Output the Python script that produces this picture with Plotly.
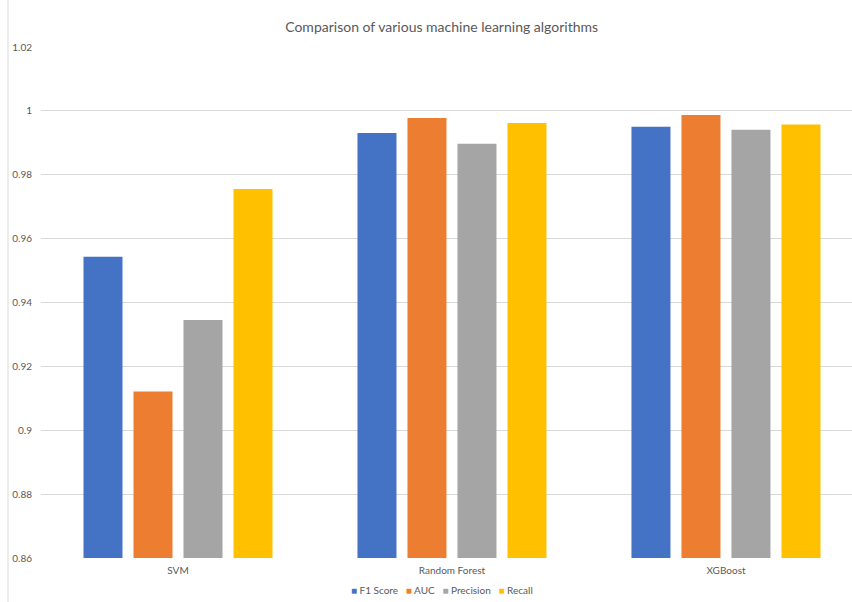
import plotly.graph_objects as go

# Models compared and their scores per metric
algorithms = ["SVM", "Random Forest", "XGBoost"]
f1_score = [0.9543, 0.9931, 0.9950]
auc = [0.9121, 0.9978, 0.9987]
precision = [0.9345, 0.9897, 0.9941]
recall = [0.9755, 0.9962, 0.9957]

y_ticks = [0.86, 0.88, 0.9, 0.92, 0.94, 0.96, 0.98, 1, 1.02]
y_tick_text = ["0.86", "0.88", "0.9", "0.92", "0.94", "0.96", "0.98", "1", "1.02"]

series = [
    ("F1 Score", f1_score, "#4472C4"),
    ("AUC", auc, "#ED7D31"),
    ("Precision", precision, "#A5A5A5"),
    ("Recall", recall, "#FFC000"),
]

FONT = "Lato, 'Open Sans', sans-serif"
TEXT = "#595959"

fig = go.Figure()
for name, values, color in series:
    fig.add_trace(go.Bar(
        name=name,
        x=algorithms,
        y=values,
        marker=dict(color=color, line=dict(width=0)),
    ))

fig.update_layout(
    width=852,
    height=602,
    margin=dict(l=41, r=0, t=47, b=44),
    paper_bgcolor="white",
    plot_bgcolor="white",
    barmode="group",
    bargap=0.27,
    bargroupgap=0.22,
    font=dict(family=FONT, size=10, color=TEXT),
    title=dict(
        text="Comparison of various machine learning algorithms",
        x=0.494, xref="paper", xanchor="center",
        y=1 - 27 / 602, yref="container", yanchor="middle",
        font=dict(family=FONT, size=14, color=TEXT),
    ),
    showlegend=False,
)

# compact legend row: coloured square glyph followed by the series name
legend_text = "\u00a0\u00a0\u00a0".join(
    f"<span style='color:{color}'>\u25A0</span>\u00a0{name}" for name, _, color in series
)
fig.add_annotation(
    text=legend_text,
    xref="paper", yref="paper",
    x=0.494, xanchor="center",
    y=-32 / 511, yanchor="middle",
    showarrow=False,
    font=dict(family=FONT, size=10, color=TEXT),
)

fig.update_xaxes(
    type="category",
    range=[-0.5, 2.46],
    showgrid=False,
    showline=False,
    ticks="",
    ticklabelstandoff=5,
    tickfont=dict(family=FONT, size=10, color=TEXT),
)

fig.update_yaxes(
    range=[0.86, 1.02],
    tickvals=y_ticks,
    ticktext=y_tick_text,
    showgrid=True,
    gridcolor="#D9D9D9",
    gridwidth=1,
    zeroline=False,
    showline=False,
    ticks="",
    ticklabelstandoff=8,
    tickfont=dict(family=FONT, size=10, color=TEXT),
)

# thin chart border on the left edge
fig.add_shape(
    type="line", xref="paper", yref="paper",
    x0=(8 - 41) / 811, x1=(8 - 41) / 811, y0=-44 / 511, y1=1 + 47 / 511,
    line=dict(color="#D9D9D9", width=1),
)

fig.write_html("out.html")
